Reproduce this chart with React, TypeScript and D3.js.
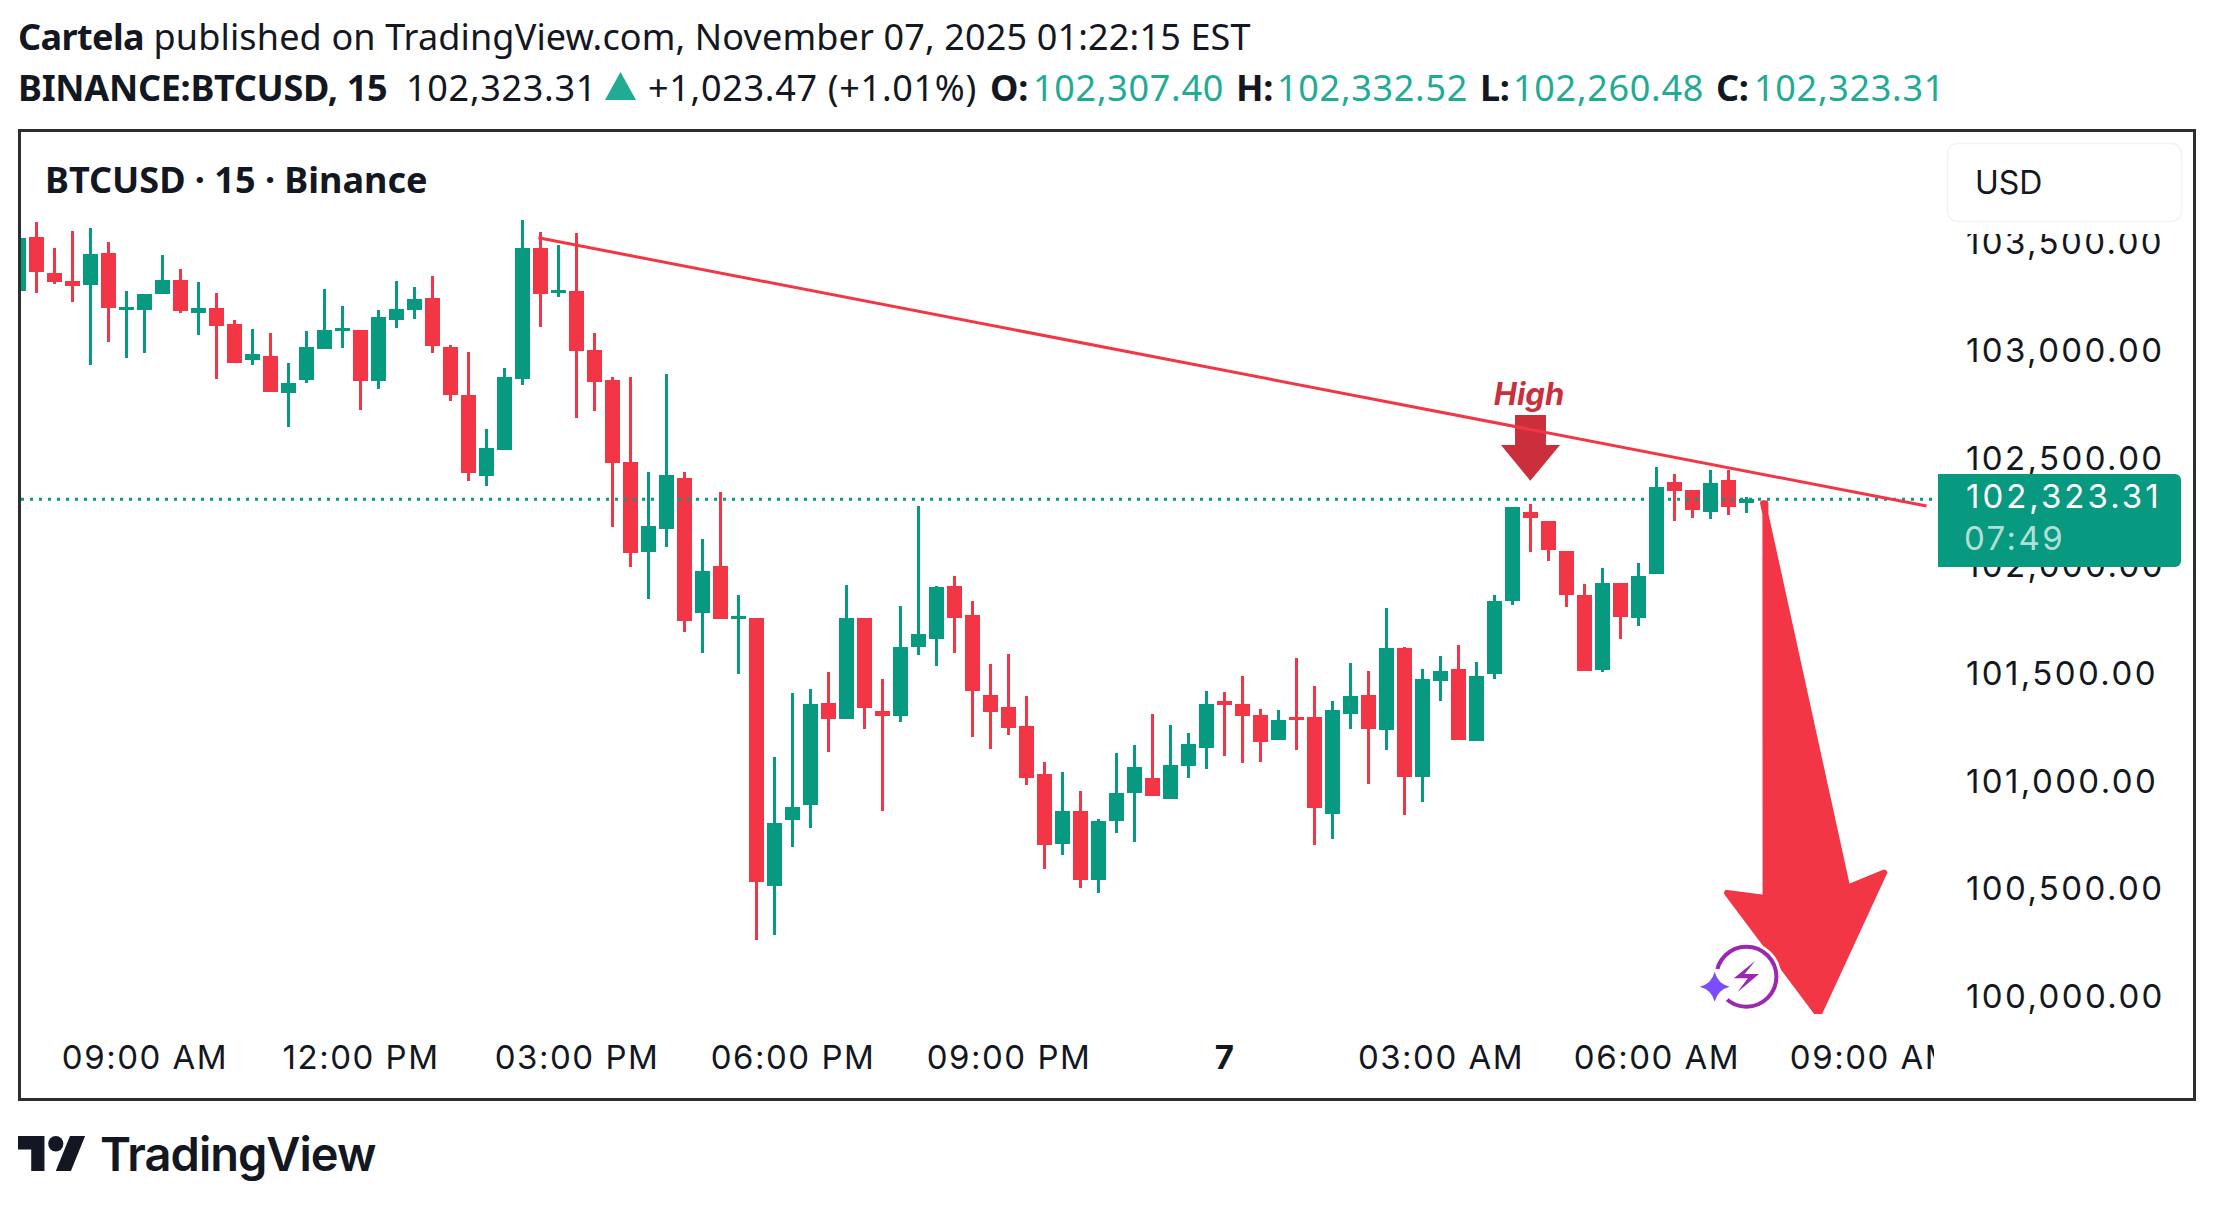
import React, { useEffect, useRef } from "react";
import * as d3 from "d3";

// candle values (15 min bars, left to right)
const opens = [
  103292, 103541, 103374, 103337, 103320, 103467, 103203, 103203, 103278, 103341, 103190, 103211, 103137, 102971,
  102988, 102818, 102879, 103022, 103106, 103109, 102874, 103157, 103203, 103258, 103030, 102807, 102433, 102553,
  102883, 103490, 103282, 103290, 103016, 102877, 102496, 102080, 102187, 102422, 101797, 102013, 101769, 101772,
  100529, 100836, 100905, 101377, 101305, 101772, 101340, 101319, 101639, 101676, 101921, 101786, 101415, 101359,
  101271, 101048, 100724, 100876, 100557, 100831, 100961, 101029, 100933, 101086, 101170, 101387, 101373, 101322,
  101207, 101312, 101312, 100864, 101328, 101415, 101254, 101633, 101035, 101481, 101535, 101203, 101514, 101853,
  102264, 102222, 102083, 101879, 101532, 101935, 101774, 101978, 102403, 102366, 102266, 102413, 102307.4,
];
const highs = [
  103536, 103611, 103490, 103569, 103583, 103518, 103290, 103276, 103457, 103392, 103332, 103281, 103156, 103114,
  103095, 102956, 103104, 103299, 103220, 103109, 103202, 103337, 103309, 103360, 103039, 103007, 102650, 102933,
  103620, 103564, 103504, 103559, 103095, 102891, 102891, 102450, 102905, 102450, 102139, 102357, 101879, 101772,
  101127, 101424, 101442, 101521, 101925, 101772, 101489, 101828, 102292, 101921, 101967, 101851, 101558, 101605,
  101410, 101103, 101057, 100969, 100839, 101145, 101182, 101326, 101275, 101238, 101433, 101429, 101503, 101350,
  101345, 101586, 101456, 101387, 101563, 101526, 101819, 101637, 101535, 101596, 101647, 101568, 101879, 102287,
  102301, 102222, 102083, 101930, 102004, 101935, 102027, 102473, 102441, 102366, 102459, 102459, 102332.52,
];
const lows = [
  103292, 103282, 103324, 103241, 102948, 103055, 102981, 103004, 103278, 103190, 103087, 102883, 102957, 102948,
  102823, 102660, 102865, 103022, 103027, 102739, 102837, 103120, 103162, 103004, 102781, 102410, 102386, 102553,
  102855, 103125, 103264, 102702, 102735, 102196, 102010, 101862, 102103, 101709, 101611, 101769, 101514, 100279,
  100302, 100710, 100799, 101151, 101305, 101258, 100878, 101291, 101602, 101551, 101611, 101221, 101165, 101230,
  100998, 100608, 100673, 100520, 100497, 100775, 100734, 100947, 100933, 101031, 101073, 101133, 101100, 101105,
  101207, 101161, 100720, 100748, 101258, 101003, 101161, 100859, 100919, 101388, 101207, 101203, 101490, 101834,
  102080, 102038, 101825, 101527, 101523, 101676, 101736, 101978, 102224, 102238, 102233, 102252, 102260.48,
];
const closes = [
  103536, 103380, 103333, 103315, 103462, 103213, 103216, 103276, 103341, 103199, 103211, 103129, 102957, 102998,
  102823, 102863, 103030, 103109, 103118, 102874, 103169, 103207, 103253, 103036, 102809, 102447, 102561, 102891,
  103490, 103278, 103295, 103013, 102869, 102493, 102075, 102199, 102436, 101760, 101990, 101769, 101781, 100548,
  100820, 100895, 101373, 101305, 101772, 101356, 101319, 101637, 101698, 101916, 101774, 101435, 101337, 101263,
  101031, 100720, 100876, 100557, 100830, 100960, 101080, 100947, 101090, 101187, 101373, 101370, 101319, 101198,
  101299, 101300, 100892, 101345, 101410, 101258, 101633, 101035, 101489, 101526, 101207, 101503, 101851, 102287,
  102238, 102089, 101880, 101527, 101935, 101778, 101967, 102380, 102363, 102275, 102399, 102289, 102323.31,
];

const priceTicks = [100000, 100500, 101000, 101500, 102000, 102500, 103000, 103500];
const timeBars = [7, 19, 31, 43, 55, 67, 79, 91, 103];
const timeLabels = ["09:00 AM", "12:00 PM", "03:00 PM", "06:00 PM", "09:00 PM", "7", "03:00 AM", "06:00 AM", "09:00 AM"];
const lastPrice = 102323.31;

// drawings, in bar number / price
const trendBars = [28.88, 106];
const trendPrices = [103537, 102292];
const bigArrowBars = [96.92, 97.05, 97.06, 94.92, 100.0, 103.65, 101.6];
const bigArrowPrices = [102305, 102305, 100472, 100496, 99930, 100590, 100520];
const highArrowBars = [83.14, 84.86, 84.86, 85.64, 83.99, 82.36, 83.14];
const highArrowPrices = [102714, 102714, 102575, 102575, 102409, 102575, 102575];

const RED = "#f23645";
const GREEN = "#089981";
const TEAL = "#22ab94";
const INK = "#131722";
const DARK_RED = "#cc2f3c";
const UI_FONT = "'Noto Sans', sans-serif";
const AXIS_FONT = "Inter, sans-serif";

const App: React.FC = () => {
  const svgRef = useRef<SVGSVGElement | null>(null);

  useEffect(() => {
    const svg = d3.select(svgRef.current);
    svg.selectAll("*").remove();

    const x = d3.scaleLinear().domain([0, 100]).range([18.5, 1818.5]);
    const y = d3.scaleLinear().domain([100000, 103500]).range([999.7, 245.8]);

    const defs = svg.append("defs");
    defs.append("clipPath").attr("id", "pane").append("rect")
      .attr("x", 21).attr("y", 132).attr("width", 1913).attr("height", 882);
    defs.append("clipPath").attr("id", "timeClip").append("rect")
      .attr("x", 21).attr("y", 1014).attr("width", 1913).attr("height", 84);

    // header lines
    const line1 = svg.append("text").attr("x", 18).attr("y", 50)
      .attr("font-family", UI_FONT).attr("font-size", 36).attr("letter-spacing", 0.15).attr("fill", INK);
    line1.append("tspan").attr("font-weight", 700).attr("letter-spacing", -0.6).text("Cartela");
    line1.append("tspan").text(" published on TradingView.com, November 07, 2025 01:22:15 EST");

    const header = (tx: number, text: string, fill: string, bold = false) =>
      svg.append("text").attr("x", tx).attr("y", 101)
        .attr("font-family", UI_FONT).attr("font-size", 36)
        .attr("letter-spacing", bold ? -0.3 : 0.7)
        .attr("font-weight", bold ? 700 : 400).attr("fill", fill).text(text);
    header(18, "BINANCE:BTCUSD, 15", INK, true);
    header(406, "102,323.31", INK);
    svg.append("path").attr("d", "M620.5,72L636,100H605Z").attr("fill", TEAL);
    header(648, "+1,023.47 (+1.01%)", INK);
    header(990, "O:", INK, true);
    header(1033, "102,307.40", TEAL);
    header(1236, "H:", INK, true);
    header(1277, "102,332.52", TEAL);
    header(1480, "L:", INK, true);
    header(1513, "102,260.48", TEAL);
    header(1716, "C:", INK, true);
    header(1754, "102,323.31", TEAL);

    // frame
    svg.append("rect").attr("x", 19.5).attr("y", 130.5).attr("width", 2175).attr("height", 969)
      .attr("fill", "#fff").attr("stroke", "#2e2e2e").attr("stroke-width", 3);

    svg.append("text").attr("x", 45).attr("y", 193)
      .attr("font-family", UI_FONT).attr("font-size", 36).attr("font-weight", 700).attr("fill", INK)
      .text("BTCUSD · 15 · Binance");

    // price axis
    const priceAxis = d3.axisRight(y).tickValues(priceTicks).tickSize(0).tickPadding(0)
      .tickFormat((d) => d3.format(",.2f")(d as number));
    const priceG = svg.append("g").attr("transform", "translate(1966,0)").call(priceAxis);
    priceG.select(".domain").remove();
    priceG.selectAll("text")
      .attr("font-family", AXIS_FONT).attr("font-size", 33).attr("letter-spacing", 2.4)
      .attr("fill", INK).attr("dy", "0.24em");

    // time axis
    const timeAxis = d3.axisBottom(x).tickValues(timeBars).tickSize(0).tickPadding(0)
      .tickFormat((_, i) => timeLabels[i]);
    const timeG = svg.append("g").attr("clip-path", "url(#timeClip)")
      .append("g").attr("transform", "translate(0,1046)").call(timeAxis);
    timeG.select(".domain").remove();
    timeG.selectAll("text")
      .attr("font-family", AXIS_FONT).attr("font-size", 33).attr("letter-spacing", 1.5)
      .attr("fill", INK).attr("font-weight", (_, i) => (timeLabels[i] === "7" ? 700 : 400));

    // candles
    const pane = svg.append("g").attr("clip-path", "url(#pane)");
    const bars = d3.range(opens.length);
    const color = (i: number) => (closes[i] >= opens[i] ? GREEN : RED);

    pane.selectAll(".wick").data(bars).enter().append("rect")
      .attr("class", "wick")
      .attr("x", (i) => x(i) - 1.5).attr("width", 3)
      .attr("y", (i) => Math.round(y(highs[i])))
      .attr("height", (i) => Math.round(y(lows[i])) - Math.round(y(highs[i])))
      .attr("fill", color);

    pane.selectAll(".body").data(bars).enter().append("rect")
      .attr("class", "body")
      .attr("x", (i) => x(i) - 7.5).attr("width", 15)
      .attr("y", (i) => Math.round(y(Math.max(opens[i], closes[i]))))
      .attr("height", (i) => Math.max(3, Math.round(y(Math.min(opens[i], closes[i]))) - Math.round(y(Math.max(opens[i], closes[i])))))
      .attr("fill", color);

    // last price line
    pane.append("line")
      .attr("x1", 21).attr("x2", 1932)
      .attr("y1", y(lastPrice)).attr("y2", y(lastPrice))
      .attr("stroke", GREEN).attr("stroke-width", 3).attr("stroke-dasharray", "3 6");

    const poly = (xs: number[], ys: number[]) =>
      xs.map((b, i) => `${x(b)},${y(ys[i])}`).join(" ");

    // High marker
    pane.append("polygon").attr("points", poly(highArrowBars, highArrowPrices)).attr("fill", DARK_RED);
    svg.append("text").attr("x", 1529).attr("y", 405).attr("text-anchor", "middle")
      .attr("font-family", AXIS_FONT).attr("font-size", 31).attr("font-weight", 700)
      .attr("font-style", "italic").attr("fill", DARK_RED).text("High");

    // trend line
    pane.append("line")
      .attr("x1", x(trendBars[0])).attr("y1", y(trendPrices[0]))
      .attr("x2", x(trendBars[1])).attr("y2", y(trendPrices[1]))
      .attr("stroke", RED).attr("stroke-width", 3);

    // big arrow
    pane.append("polygon").attr("points", poly(bigArrowBars, bigArrowPrices))
      .attr("fill", RED).attr("stroke", RED).attr("stroke-width", 6).attr("stroke-linejoin", "round");

    // purple badge
    const badge = svg.append("g");
    badge.append("circle").attr("cx", 1746.4).attr("cy", 976.7).attr("r", 35).attr("fill", "#fff");
    badge.append("circle").attr("cx", 1746.4).attr("cy", 976.7).attr("r", 30)
      .attr("fill", "none").attr("stroke", "#9c27b0").attr("stroke-width", 4);
    badge.append("path").attr("d", "M1755.4,960.7L1733.8,978.3H1747.8L1737.4,992.3L1759,974H1744.6Z").attr("fill", "#9c27b0");
    badge.append("circle").attr("cx", 1714.7).attr("cy", 986.7).attr("r", 18).attr("fill", "#fff");
    badge.append("path")
      .attr("d", "M1714.7,971.7Q1717.7,983.7 1729.7,986.7Q1717.7,989.7 1714.7,1001.7Q1711.7,989.7 1699.7,986.7Q1711.7,983.7 1714.7,971.7Z")
      .attr("fill", "#7c4dff");

    // USD box, it hides the top of the highest price label
    svg.append("rect").attr("x", 1945).attr("y", 222).attr("width", 240).attr("height", 12).attr("fill", "#fff");
    svg.append("rect").attr("x", 1947.5).attr("y", 143.5).attr("width", 234).attr("height", 78).attr("rx", 10)
      .attr("fill", "#fff").attr("stroke", "#f0f3fa").attr("stroke-width", 1.5);
    svg.append("text").attr("x", 1975).attr("y", 194)
      .attr("font-family", AXIS_FONT).attr("font-size", 32).attr("fill", INK).text("USD");

    // last price tag
    svg.append("path").attr("d", "M1938,474H2175a6,6 0 0 1 6,6V561a6,6 0 0 1 -6,6H1938Z").attr("fill", GREEN);
    svg.append("text").attr("x", 1966).attr("y", 508)
      .attr("font-family", AXIS_FONT).attr("font-size", 33).attr("letter-spacing", 3).attr("fill", "#fff")
      .text(d3.format(",.2f")(lastPrice));
    svg.append("text").attr("x", 1964).attr("y", 550)
      .attr("font-family", AXIS_FONT).attr("font-size", 33).attr("letter-spacing", 2.4)
      .attr("fill", "#fff").attr("fill-opacity", 0.7).text("07:49");

    // logo
    const logo = svg.append("g").attr("transform", "translate(18,1128.2) scale(1.89,1.94)").attr("fill", INK);
    logo.append("path").attr("d", "M14 22H7V11H0V4h14v18zM28 22h-8l7.5-18h8L28 22z");
    logo.append("circle").attr("cx", 20).attr("cy", 8).attr("r", 4);
    svg.append("text").attr("x", 100).attr("y", 1171)
      .attr("font-family", AXIS_FONT).attr("font-size", 47).attr("font-weight", 600)
      .attr("letter-spacing", -1).attr("fill", INK).text("TradingView");
  }, []);

  return (
    <svg
      ref={svgRef}
      width={2214}
      height={1209}
      style={{ position: "absolute", left: 0, top: 0, background: "#fff" }}
    />
  );
};

export default App;
